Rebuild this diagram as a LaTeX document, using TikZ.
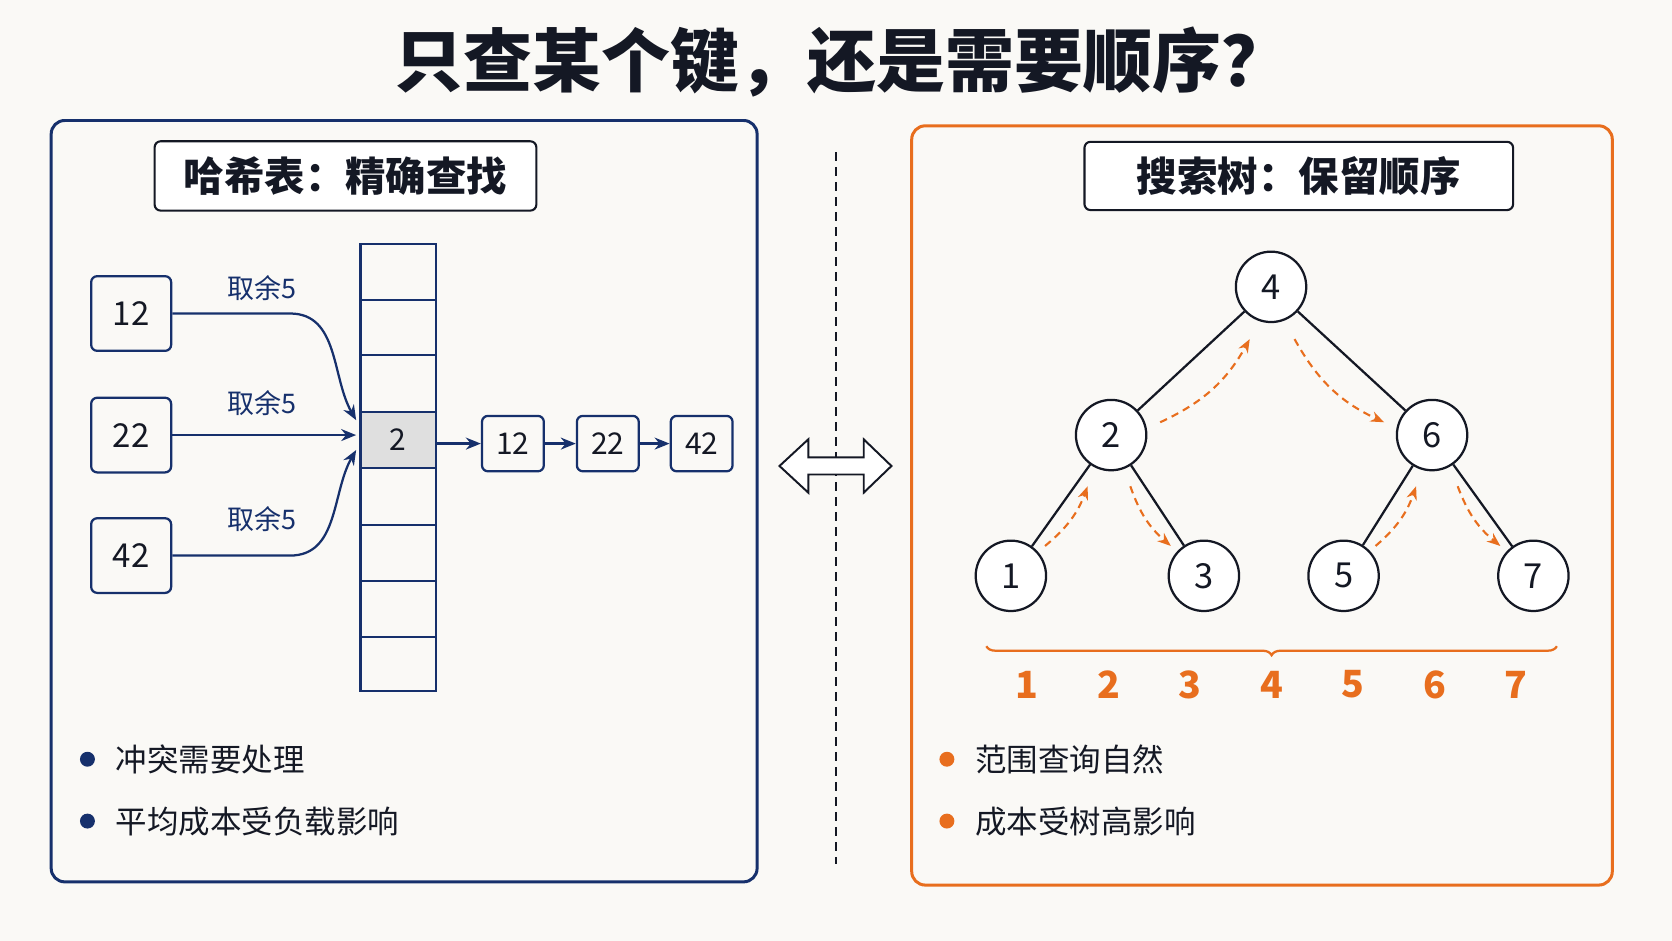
\documentclass[tikz,border=0pt]{standalone}
\usepackage{fontspec}
\setmainfont{Noto Sans CJK SC}
\usetikzlibrary{arrows.meta,decorations.pathreplacing}
\definecolor{navy}{RGB}{22,48,108}
\definecolor{org}{RGB}{232,110,30}
\definecolor{bg}{RGB}{250,249,246}
\definecolor{ink}{RGB}{20,24,36}
\begin{document}
\begin{tikzpicture}[x=0.05cm,y=-0.05cm,
  panel/.style={rounded corners=18pt,line width=4pt},
  hdr/.style={draw=ink,rounded corners=8pt,line width=2.8pt,fill=white,font=\fontsize{54}{54}\selectfont\bfseries,text=ink},
  key/.style={draw=navy,rounded corners=8pt,line width=3pt,minimum width=3.75cm,minimum height=3.5cm,font=\fontsize{44}{44}\selectfont,text=ink},
  ch/.style={draw=navy,rounded corners=8pt,line width=3pt,minimum width=2.9cm,minimum height=2.6cm,font=\fontsize{40}{40}\selectfont,text=ink},
  lab/.style={text=navy,font=\fontsize{36}{36}\selectfont},
  tn/.style={circle,draw=ink,line width=3pt,fill=white,minimum size=3.3cm,inner sep=0pt,font=\fontsize{46}{46}\selectfont,text=ink},
  narr/.style={navy,line width=3pt,-{Stealth[length=20pt,width=16pt]}},
  oarr/.style={org,line width=2.8pt,dash pattern=on 10pt off 7pt,-{Stealth[length=18pt,width=14pt]}},
  bul/.style={font=\fontsize{42}{42}\selectfont,text=ink,anchor=west},
  on/.style={text=org,font=\fontsize{50}{50}\selectfont\bfseries}]
\fill[bg] (0,0) rectangle (1568,882);
\useasboundingbox (0,0) rectangle (1568,882);
\node[font=\fontsize{92}{92}\selectfont\bfseries,text=ink] (title) at (790,58) {只查某个键，还是需要顺序？};
% left panel
\draw[panel,navy] (48,113) rectangle (710,827);
\node[hdr,minimum width=17.9cm,minimum height=3.25cm] (lh) at (324,165) {哈希表：精确查找};
\node[key] (k12) at (123,294) {12};
\node[key] (k22) at (123,408) {22};
\node[key] (k42) at (123,521) {42};
\fill[gray!25] (338,386) rectangle (409,439);
\foreach \y in {281,333,386,439,492,545,597} \draw[navy,line width=2.6pt] (338,\y) -- (409,\y);
\draw[navy,line width=3pt] (338,229) rectangle (409,648);
\node[font=\fontsize{40}{40}\selectfont,text=ink] (slot) at (373,412) {2};
\coordinate (sr) at (409,416);
\node[ch] (c12) at (481,416) {12};
\node[ch] (c22) at (570,416) {22};
\node[ch] (c42) at (658,416) {42};
\node[lab] (l1) at (246,270) {取余5};
\node[lab] (l2) at (246,378) {取余5};
\node[lab] (l3) at (246,487) {取余5};
\coordinate (a1) at (334,394);
\coordinate (a2) at (334,408);
\coordinate (a3) at (334,422);
\draw[narr] (k12.east) -- (272,294) to[out=0,in=120] (a1);
\draw[narr] (k22.east) -- (a2);
\draw[narr] (k42.east) -- (272,521) to[out=0,in=240] (a3);
\draw[narr] (sr) -- (c12.west);
\draw[narr] (c12.east) -- (c22.west);
\draw[narr] (c22.east) -- (c42.west);
\fill[navy] (82,712) circle (7);
\node[bul] (b1) at (106,712) {冲突需要处理};
\fill[navy] (82,770) circle (7);
\node[bul] (b2) at (106,770) {平均成本受负载影响};
% divider
\draw[ink,line width=2.2pt,dash pattern=on 12pt off 8pt] (784,143) -- (784,810);
\draw[ink,line width=2.6pt,fill=white] (731,437) -- (758,412) -- (758,429) -- (810,429) -- (810,412) -- (836,437) -- (810,462) -- (810,445) -- (758,445) -- (758,462) -- cycle;
% right panel
\draw[panel,org] (855,118) rectangle (1512,830);
\node[hdr,minimum width=20.1cm,minimum height=3.2cm] (rh) at (1218,165) {搜索树：保留顺序};
\node[tn] (n4) at (1192,269) {4};
\node[tn] (n2) at (1042,408) {2};
\node[tn] (n6) at (1343,408) {6};
\node[tn] (n1) at (948,540) {1};
\node[tn] (n3) at (1129,540) {3};
\node[tn] (n5) at (1260,540) {5};
\node[tn] (n7) at (1438,540) {7};
\begin{scope}[on background layer/.style={}]
\foreach \a/\b in {n4/n2,n4/n6,n2/n1,n2/n3,n6/n5,n6/n7} \draw[ink,line width=3pt] (\a) -- (\b);
\end{scope}
\draw[oarr] (980,512) to[bend right=15] (1020,456);
\draw[oarr] (1060,456) to[bend right=15] (1098,512);
\draw[oarr] (1088,396) to[bend right=18] (1172,318);
\draw[oarr] (1214,318) to[bend right=18] (1298,396);
\draw[oarr] (1290,512) to[bend right=15] (1328,456);
\draw[oarr] (1367,456) to[bend right=15] (1407,512);
\draw[org,line width=3pt,decorate,decoration={brace,amplitude=12pt}] (1460,606) -- (925,606);
\foreach \v/\x in {1/963,2/1040,3/1116,4/1193,5/1269,6/1346,7/1422} \node[on] (o\v) at (\x,642) {\v};
\fill[org] (888,712) circle (7);
\node[bul] (b3) at (912,712) {范围查询自然};
\fill[org] (888,770) circle (7);
\node[bul] (b4) at (912,770) {成本受树高影响};
\end{tikzpicture}
\end{document}
